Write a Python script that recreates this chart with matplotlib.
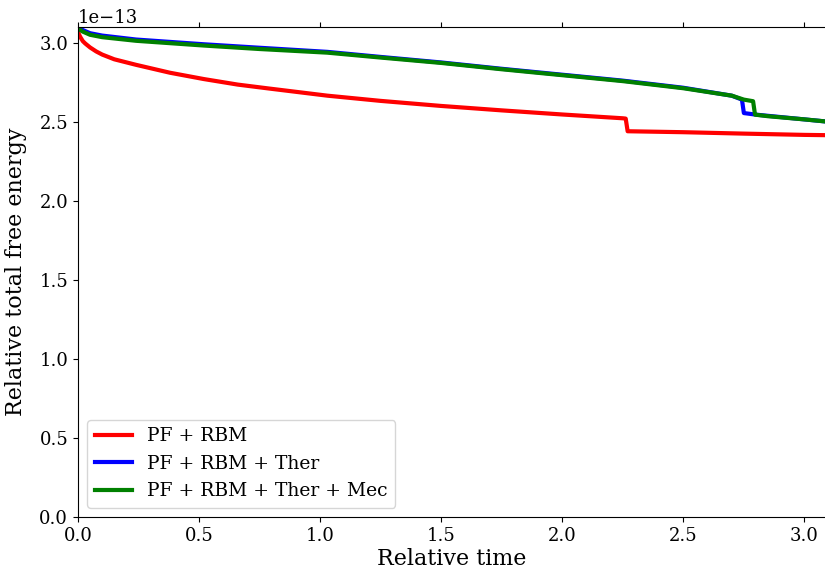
import matplotlib.pyplot as plt
import matplotlib
matplotlib.rcParams['font.family'] = ['DejaVu Serif']
import numpy as np

# ── DATA ─────────────────────────────────────────────────────
t_red = [0.0, 0.005, 0.01, 0.02, 0.03, 0.05, 0.075, 0.10, 0.15, 0.24, 0.38, 0.52,
         0.66, 0.79, 1.03, 1.25, 1.50, 1.75, 2.00, 2.25, 2.262, 2.270, 2.50,
         2.75, 3.00, 3.10]
e_red = [3.07, 3.05, 3.035, 3.01, 2.995, 2.97, 2.945, 2.925, 2.895, 2.86, 2.81, 2.77,
         2.735, 2.71, 2.665, 2.632, 2.6, 2.572, 2.546, 2.522, 2.52, 2.44, 2.434,
         2.425, 2.417, 2.415]

t_blue = [0.0, 0.01, 0.02, 0.05, 0.10, 0.24, 0.52, 0.75, 1.03, 1.25, 1.50, 1.75,
          2.07, 2.25, 2.50, 2.70, 2.742, 2.750, 2.80, 3.00, 3.10]
e_blue = [3.10, 3.09, 3.08, 3.06, 3.045, 3.02, 2.99, 2.968, 2.942, 2.91, 2.875, 2.835,
          2.787, 2.76, 2.715, 2.665, 2.64, 2.555, 2.545, 2.515, 2.50]

t_green = [0.0, 0.01, 0.02, 0.05, 0.10, 0.24, 0.52, 0.75, 1.03, 1.25, 1.50, 1.75,
           2.07, 2.25, 2.50, 2.70, 2.75, 2.788, 2.796, 2.85, 3.00, 3.10]
e_green = [3.09, 3.08, 3.07, 3.05, 3.035, 3.012, 2.982, 2.96, 2.937, 2.906, 2.872, 2.832,
           2.784, 2.757, 2.712, 2.665, 2.64, 2.63, 2.545, 2.535, 2.515, 2.50]

labels = ['PF + RBM', 'PF + RBM + Ther', 'PF + RBM + Ther + Mec']
colors = ['red', 'blue', 'green']

# ── PLOT ─────────────────────────────────────────────────────
fig = plt.figure(figsize=(8.25, 5.72), dpi=100)
ax = fig.add_axes([0.0945, 0.096, 0.9055, 0.857])

series = [(t_red, e_red), (t_blue, e_blue), (t_green, e_green)]
for (t, e), lab, c in zip(series, labels, colors):
    ax.plot(t, np.array(e) * 1e-13, color=c, linewidth=3, label=lab)

ax.set_xlim(0, 3.085)
ax.set_ylim(0, 3.1e-13)
ax.set_xticks([0.0, 0.5, 1.0, 1.5, 2.0, 2.5, 3.0])
ax.set_yticks(np.arange(0, 3.01e-13, 0.5e-13))
ax.spines['right'].set_visible(False)
ax.tick_params(axis='x', top=True, labelsize=13)
ax.tick_params(axis='y', labelsize=13)
ax.yaxis.get_offset_text().set_fontsize(13)

ax.set_xlabel('Relative time', fontsize=16, labelpad=2)
ax.set_ylabel('Relative total free energy', fontsize=16, labelpad=9)

ax.legend(loc='lower left', fontsize=13.5, handlelength=2.0)

plt.savefig('out.png', dpi=100)
plt.close()
